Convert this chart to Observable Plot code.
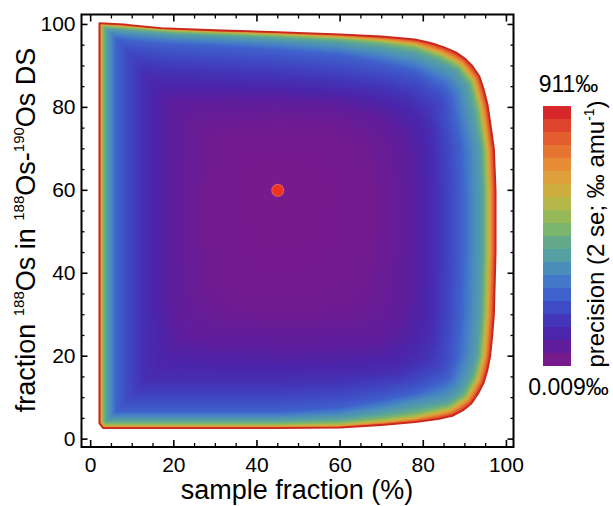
<!DOCTYPE html>
<html><head><meta charset="utf-8">
<script src="https://cdn.jsdelivr.net/npm/d3@7"></script>
<script src="https://cdn.jsdelivr.net/npm/@observablehq/plot@0.6"></script>
<style>
body{margin:0;background:#fff;}
#wrap{position:relative;width:613px;height:506px;font-family:"Liberation Sans",Arial,sans-serif;}
#main{position:absolute;left:0;top:0;}
#bar{position:absolute;left:520px;top:60px;}
</style></head>
<body><div id="wrap"><div id="main"></div><div id="bar"></div></div>
<script>
// ---- data ----
const sampleTicks = [0, 20, 40, 60, 80, 100];
const fractionTicks = [0, 20, 40, 60, 80, 100];
const minorTicks = [5, 10, 15, 25, 30, 35, 45, 50, 55, 65, 70, 75, 85, 90, 95];

// log10 of precision (‰ amu-1) along each contour ring, outermost first
const ringLevels = [2.96, 1.38, 0.59, 0.06, -0.20, -0.73, -0.99, -1.39, -1.78, -1.99, -2.05];

// [sample fraction %, 188Os fraction %] positions of each contour ring
const ringRed = [[2.1,100.3],[8,100],[10,99.8],[17,99.1],[20,99.0],[30,98.6],[45,98.15],[60,97.6],[70,97.1],[78,96.4],[82,95.5],[85,94.5],[88,93.2],[90,91.8],[91.8,90],[93.5,87.5],[94.5,84.5],[95.5,80.5],[96.3,75],[97,70],[97.4,60],[97.4,45],[97,30],[96.6,25],[96.1,20],[95.4,16.5],[94.5,13.5],[93.2,11],[91.5,8.5],[89.5,6.9],[87,5.6],[83.5,4.8],[78,4.1],[70,3.4],[60,2.75],[45,2.65],[30,2.65],[20,2.65],[10,2.65],[3,2.65],[2.1,3.8],[2.1,15],[2.1,30],[2.1,45],[2.1,60],[2.1,75],[2.1,90]];
const ringYellow = [[2.6,99.9],[10,99.4],[20,98.6],[30,98.2],[45,97.65],[60,97.0],[70,96.2],[78,95.2],[84.4,93.0],[89.0,90.5],[92.2,86.5],[94.0,79.9],[95.4,70],[95.8,60],[95.8,45],[95.4,30],[94.6,20],[93.1,14.3],[90.5,9.8],[86.5,7.1],[78,5.1],[70,4.2],[60,3.35],[45,3.15],[30,3.15],[20,3.15],[10,3.15],[3.2,3.15],[2.6,4.0],[2.6,15],[2.6,30],[2.6,45],[2.6,60],[2.6,75],[2.6,90]];
const ringGreen = [[3.1,99.5],[10,99.0],[20,98.2],[30,97.8],[45,97.25],[60,96.5],[70,95.6],[78,94.4],[84.1,92.2],[88.5,89.8],[91.5,86.0],[93.2,79.6],[94.6,70],[95.0,60],[95.0,45],[94.6,30],[93.8,20],[92.4,14.8],[90.0,10.5],[86.3,8.0],[78,6.1],[70,5.0],[60,4.05],[45,3.75],[30,3.75],[20,3.75],[10,3.75],[3.6,3.75],[3.1,4.4],[3.1,15],[3.1,30],[3.1,45],[3.1,60],[3.1,75],[3.1,90]];
const ringCyan = [[3.8,98.9],[10,98.4],[20,97.6],[30,97.2],[45,96.55],[60,95.6],[70,94.5],[78,93.0],[83.7,90.9],[87.7,88.8],[90.5,85.2],[91.9,79.2],[93.7,70],[94.1,60],[94.1,45],[93.7,30],[92.8,20],[91.3,15.4],[89.2,11.5],[85.9,9.2],[78,7.6],[70,6.2],[60,4.95],[45,4.55],[30,4.55],[20,4.55],[10,4.55],[3.8,4.55],[3.8,15],[3.8,30],[3.8,45],[3.8,60],[3.8,75],[3.8,90]];
const ringLightBlue = [[4.7,98.1],[10,97.6],[20,96.8],[30,96.4],[45,95.65],[60,94.6],[70,93.1],[78,91.4],[83.1,89.3],[86.7,87.4],[89.1,84.2],[90.3,78.6],[92.0,70],[92.4,60],[92.4,45],[92.0,30],[91.1,20],[89.8,16.3],[88.2,12.9],[85.4,10.8],[78,9.1],[70,7.4],[60,5.95],[45,5.35],[30,5.35],[20,5.35],[10,5.35],[4.7,5.35],[4.7,15],[4.7,30],[4.7,45],[4.7,60],[4.7,75],[4.7,90]];
const ringBlue = [[6.1,96.5],[10,96.0],[20,95.2],[30,94.8],[45,93.85],[60,92.6],[70,90.9],[78,88.9],[82.0,86.5],[84.9,85.0],[86.7,82.4],[87.5,77.5],[89.0,70],[89.4,60],[89.4,45],[89.0,30],[88.1,20],[87.3,17.8],[86.4,15.3],[84.5,13.7],[78,11.1],[70,9.4],[60,7.55],[45,6.65],[30,6.65],[20,6.65],[10,6.65],[6.1,6.65],[6.1,15],[6.1,30],[6.1,45],[6.1,60],[6.1,75],[6.1,90]];
const ringBlueIndigo = [[8.6,93.8],[20,92.5],[30,92.1],[45,91.15],[60,89.8],[70,88.1],[78,86.4],[81.2,84.2],[83.4,83.0],[84.7,80.9],[85.2,76.7],[86.5,70],[86.9,60],[86.9,45],[86.5,30],[85.6,20],[84.9,17.3],[83.7,16.1],[78,13.6],[70,11.9],[60,10.25],[45,9.45],[30,9.45],[20,9.45],[8.6,9.45],[8.6,15],[8.6,30],[8.6,45],[8.6,60],[8.6,75],[8.6,90]];
const ringIndigo = [[13.1,88.3],[20,87.5],[30,87],[45,86.1],[60,85],[70,83.5],[76,81.5],[79.5,78.5],[82,74],[82.8,60],[82.8,45],[82.5,30],[81.5,24],[79,19.5],[74,16.5],[60,15],[45,14.6],[30,14.6],[20,14.6],[13.1,14.6],[13.1,30],[13.1,45],[13.1,60],[13.1,75]];
const ringIndigoPurple = [[20,81],[30,81.5],[45,81.5],[60,80.5],[68,78.5],[73.5,74.5],[76,69],[76.5,60],[76.5,45],[76,33],[73.5,27],[68,23.5],[60,23],[45,23],[30,23.5],[22,25],[20,32],[20,45],[20,60],[20,72]];
const ringPurple = [[30,73],[45,75],[58,74],[65,69],[68,60],[67,45],[63,36],[55,32.5],[45,32],[35,33],[30,38],[28.5,48],[28.5,60]];
const ringCenter = [[45,60]];

const optimum = [{sample: 45, fraction: 60}];
const colorbarLabels = ["911‰", "0.009‰"];
const precisionRange = [0.009, 911];

// colour ramp, bottom (low) to top (high) of the colour bar
const palette = ["#771a8c","#5f1d9c","#4b25ab","#4336b8","#3f4bc4","#3f62cc","#4479c9","#4c8ebb","#569fa3","#64aa8a",
                 "#7ab56e","#98b958","#b5b748","#cdae3f","#dea03a","#e68c35","#e77532","#e35d2f","#de432d","#d8272a"];

// ---- build ----
const rings = [ringRed, ringYellow, ringGreen, ringCyan, ringLightBlue, ringBlue, ringBlueIndigo, ringIndigo, ringIndigoPurple, ringPurple, ringCenter];
const points = rings.flatMap((ring, i) => ring.map(([x, y]) => ({sample: x, fraction: y, logp: ringLevels[i]})));
const edge = ringRed.map(([x, y]) => ({sample: x, fraction: y}));
const colorDomain = precisionRange.map(Math.log10);
const ramp = d3.piecewise(d3.interpolateRgb, palette);

// raster interpolation between the two contour rings that bracket each pixel
function distToRing(pts, x, y) {
  const n = pts.length;
  if (n === 1) return Math.hypot(x - pts[0][0], y - pts[0][1]);
  let best = Infinity;
  for (let a = 0; a < n; ++a) {
    const p = pts[a], q = pts[(a + 1) % n];
    const dx = q[0] - p[0], dy = q[1] - p[1];
    const l2 = dx * dx + dy * dy;
    let t = l2 ? ((x - p[0]) * dx + (y - p[1]) * dy) / l2 : 0;
    t = t < 0 ? 0 : t > 1 ? 1 : t;
    const ex = p[0] + t * dx - x, ey = p[1] + t * dy - y;
    const d = ex * ex + ey * ey;
    if (d < best) best = d;
  }
  return Math.sqrt(best);
}
function ringInterpolate(index, width, height, X, Y, V) {
  const groups = [];
  for (const i of index) {
    const g = groups[groups.length - 1];
    if (g && g.v === +V[i]) g.pts.push([X[i], Y[i]]);
    else groups.push({v: +V[i], pts: [[X[i], Y[i]]]});
  }
  const F = new Float64Array(width * height);
  for (let j = 0; j < height; ++j) {
    for (let i = 0; i < width; ++i) {
      const x = i + 0.5, y = j + 0.5;
      let k = -1;
      for (let r = 0; r < groups.length; ++r) {
        if (groups[r].pts.length < 3 || !d3.polygonContains(groups[r].pts, [x, y])) break;
        k = r;
      }
      let v;
      if (k < 0) v = groups[0].v;
      else if (k === groups.length - 1) v = groups[k].v;
      else {
        const a = distToRing(groups[k].pts, x, y), b = distToRing(groups[k + 1].pts, x, y);
        v = (groups[k].v * b + groups[k + 1].v * a) / (a + b);
      }
      F[j * width + i] = v;
    }
  }
  return F;
}

function clipToEdge(index, scales, values, dims, context, next) {
  const g = next(index, scales, values, dims, context);
  const ns = "http://www.w3.org/2000/svg";
  const wrap = document.createElementNS(ns, "g");
  const cp = document.createElementNS(ns, "clipPath");
  cp.setAttribute("id", "edgeClip");
  const p = document.createElementNS(ns, "path");
  p.setAttribute("d", "M" + edge.map(d => `${scales.x(d.sample)},${scales.y(d.fraction)}`).join("L") + "Z");
  cp.appendChild(p);
  wrap.appendChild(cp);
  g.setAttribute("clip-path", "url(#edgeClip)");
  wrap.appendChild(g);
  return wrap;
}

const font = '"Liberation Sans", Arial, sans-serif';
const tickAxes = (fn, ticks, anchor, size, sw) => fn(ticks, {anchor, tickSize: size, strokeWidth: sw, fill: "none", label: null});

const main = Plot.plot({
  width: 613, height: 506,
  marginLeft: 81, marginRight: 100, marginTop: 14, marginBottom: 59.5,
  style: {fontFamily: font, fontSize: "21px", background: "white", color: "black", overflow: "visible"},
  x: {domain: [-2.2, 101.7], label: null},
  y: {domain: [-1.9, 102.4], label: null},
  color: {type: "linear", domain: colorDomain, interpolate: ramp},
  marks: [
    Plot.raster(points, {x: "sample", y: "fraction", fill: "logp", interpolate: ringInterpolate, render: clipToEdge}),
    Plot.line(edge, {x: "sample", y: "fraction", curve: "linear-closed", stroke: "#c9281c", strokeWidth: 1.8}),
    Plot.dot(optimum, {x: "sample", y: "fraction", r: 6, fill: "#ef3323", stroke: "#f47a5a", strokeWidth: 1.2, strokeOpacity: 0.6}),
    Plot.frame({stroke: "black", strokeWidth: 2}),
    Plot.axisX(sampleTicks, {anchor: "bottom", tickSize: 0, tickPadding: 10, fontSize: 21, label: null}),
    tickAxes(Plot.axisX, sampleTicks, "bottom", -6.5, 1.6),
    tickAxes(Plot.axisX, minorTicks, "bottom", -3.5, 1.3),
    tickAxes(Plot.axisX, sampleTicks, "top", -6.5, 1.6),
    tickAxes(Plot.axisX, minorTicks, "top", -3.5, 1.3),
    Plot.axisY(fractionTicks, {anchor: "left", tickSize: 0, tickPadding: 6, fontSize: 21, label: null}),
    tickAxes(Plot.axisY, fractionTicks, "left", -6.5, 1.6),
    tickAxes(Plot.axisY, minorTicks, "left", -3.5, 1.3),
    tickAxes(Plot.axisY, fractionTicks, "right", -6.5, 1.6),
    tickAxes(Plot.axisY, minorTicks, "right", -3.5, 1.3)
  ]
});
document.getElementById("main").appendChild(main);

// axis titles with superscripts
const ms = d3.select(main);
ms.append("text").attr("x", 297).attr("y", 499).attr("text-anchor", "middle")
  .attr("font-size", 27).attr("fill", "black").text("sample fraction (%)");
const yt = ms.append("text").attr("transform", "translate(35,230) rotate(-90)").attr("text-anchor", "middle")
  .attr("font-size", 27).attr("fill", "black");
const yParts = [["fraction ", 0], ["188", 1], ["Os in ", 0], ["188", 1], ["Os-", 0], ["190", 1], ["Os DS", 0]];
let prevSup = 0;
yParts.forEach(([t, sup]) => {
  const dy = sup && !prevSup ? -11 : (!sup && prevSup ? 11 : 0);
  yt.append("tspan").attr("dy", dy).attr("font-size", sup ? 15 : 27).text(t);
  prevSup = sup;
});

// colour bar
const bandIdx = d3.range(palette.length);
const bar = Plot.plot({
  width: 93, height: 360,
  marginLeft: 23, marginRight: 42, marginTop: 41.7, marginBottom: 50,
  style: {fontFamily: font, background: "transparent", color: "black", overflow: "visible"},
  y: {type: "band", domain: bandIdx.slice().reverse(), padding: 0, axis: null},
  marks: [
    Plot.cell(bandIdx, {y: d => d, fill: d => palette[d], inset: 0, shapeRendering: "crispEdges"}),
    Plot.text(colorbarLabels.slice(0, 1), {text: d => d, frameAnchor: "top", lineAnchor: "middle", dx: 11, dy: -18, fontSize: 23}),
    Plot.text(colorbarLabels.slice(1), {text: d => d, frameAnchor: "bottom", lineAnchor: "middle", dx: 11, dy: 17, fontSize: 23})
  ]
});
document.getElementById("bar").appendChild(bar);
const bt = d3.select(bar).append("text").attr("transform", "translate(84,174) rotate(-90)")
  .attr("text-anchor", "middle").attr("font-size", 24).attr("fill", "black");
bt.append("tspan").text("precision (2 se; ‰ amu");
bt.append("tspan").attr("dy", -10).attr("font-size", 14).text("-1");
bt.append("tspan").attr("dy", 10).text(")");
</script></body></html>
